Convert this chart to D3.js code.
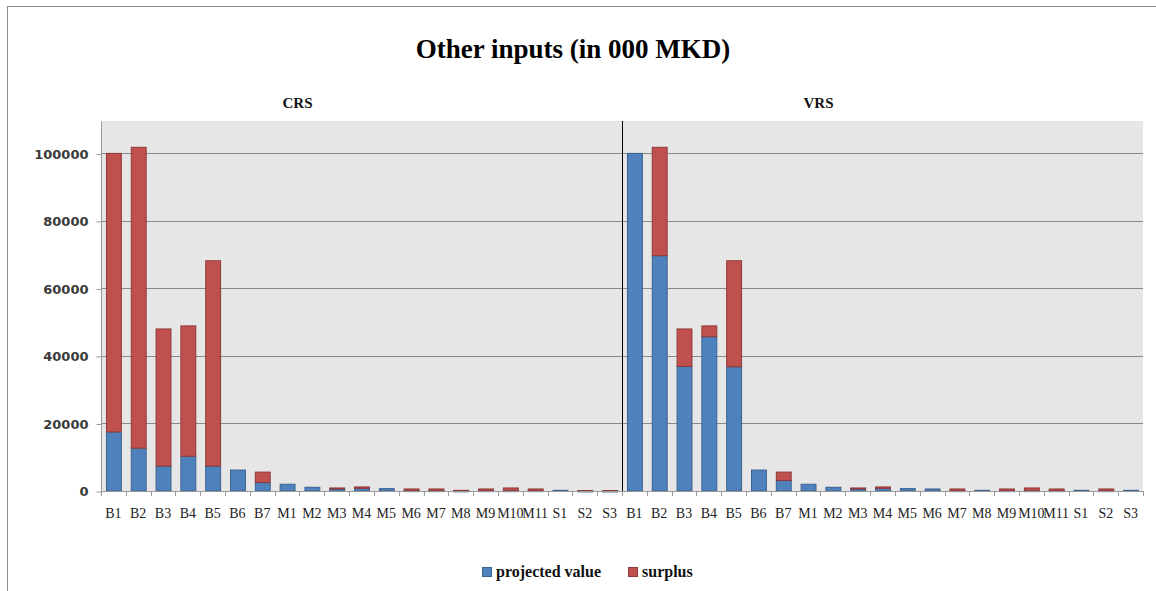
<!DOCTYPE html>
<html>
<head>
<meta charset="utf-8">
<script src="https://cdn.jsdelivr.net/npm/d3@7"></script>
<style>
  html, body { margin: 0; padding: 0; background: #fff; }
  svg { display: block; }
</style>
</head>
<body>
<svg id="chart" width="1156" height="591"></svg>
<script>
// Units per panel (x-axis categories)
const categories = ["B1","B2","B3","B4","B5","B6","B7","M1","M2","M3","M4","M5","M6","M7","M8","M9","M10","M11","S1","S2","S3"];
const panels = ["CRS", "VRS"];

// CRS model, in 000 MKD
const crsProjected = [17500, 12700, 7400, 10300, 7400, 6200, 2500, 2000, 1100, 600, 800, 700, 100, 100, 50, 100, 100, 100, 200, 20, 20];
const crsSurplus   = [82500, 89100, 40600, 38600, 60800, 0, 3100, 0, 0, 300, 400, 0, 500, 500, 150, 500, 800, 500, 0, 130, 130];

// VRS model, in 000 MKD
const vrsProjected = [100000, 69700, 36900, 45700, 36800, 6200, 3100, 2000, 1100, 600, 800, 700, 600, 100, 200, 100, 100, 100, 200, 100, 200];
const vrsSurplus   = [0, 32100, 11100, 3200, 31400, 0, 2500, 0, 0, 300, 400, 0, 0, 500, 0, 500, 800, 500, 0, 500, 0];

const yTicks = [0, 20000, 40000, 60000, 80000, 100000];
const seriesNames = ["projected value", "surplus"];
const colors = { fill: ["#4F81BD", "#C0504D"], stroke: ["#3A6291", "#8E3A38"] };

const svg = d3.select("#chart");
const W = 1156, H = 591;

// outer frame
svg.append("rect").attr("x", 7.5).attr("y", 6.5).attr("width", W).attr("height", H)
  .attr("fill", "#fff").attr("stroke", "#8c8c8c");

const plot = { left: 101, right: 1143, top: 121, bottom: 491 };
const mid = 622;

const y = d3.scaleLinear().domain([0, 109600]).range([plot.bottom, plot.top]);

// plot background
svg.append("rect").attr("x", plot.left).attr("y", plot.top)
  .attr("width", plot.right - plot.left).attr("height", plot.bottom - plot.top)
  .attr("fill", "#E6E6E6");

// gridlines
svg.append("g").selectAll("line").data(yTicks.filter(d => d > 0)).join("line")
  .attr("x1", plot.left).attr("x2", plot.right)
  .attr("y1", d => Math.round(y(d)) + 0.5).attr("y2", d => Math.round(y(d)) + 0.5)
  .attr("stroke", "#8a8a8a").attr("stroke-width", 1);

// y axis
const yAxis = d3.axisLeft(y).tickValues(yTicks).tickSize(5).tickPadding(8).tickFormat(d3.format("d"));
const yg = svg.append("g").attr("transform", `translate(${plot.left + 0.5},0.5)`).call(yAxis);
yg.select(".domain").attr("stroke", "#9a9a9a").attr("d", `M-0,${plot.top}V${plot.bottom}`);
yg.selectAll(".tick line").attr("stroke", "#9a9a9a");
yg.selectAll(".tick text").attr("font-family", "'DejaVu Sans', sans-serif")
  .attr("font-size", 13).attr("font-weight", "bold").attr("fill", "#3a3a3a");

const panelData = [
  { name: "CRS", x0: plot.left, x1: mid, proj: crsProjected, surp: crsSurplus },
  { name: "VRS", x0: mid, x1: plot.right, proj: vrsProjected, surp: vrsSurplus }
];

panelData.forEach(p => {
  const x = d3.scaleBand().domain(categories).range([p.x0, p.x1]).paddingInner(0.4).paddingOuter(0.2);
  const rows = categories.map((c, i) => ({ cat: c, vals: [p.proj[i], p.surp[i]] }));
  const stacked = d3.stack().keys([0, 1]).value((d, k) => d.vals[k])(rows);

  const g = svg.append("g");
  stacked.forEach((layer, k) => {
    g.append("g").selectAll("rect").data(layer.filter(d => d[1] > d[0])).join("rect")
      .attr("x", d => x(d.data.cat) + 0.5)
      .attr("width", x.bandwidth())
      .attr("y", d => y(d[1]))
      .attr("height", d => Math.max(1, y(d[0]) - y(d[1])))
      .attr("fill", colors.fill[k])
      .attr("stroke", colors.stroke[k]).attr("stroke-width", 1);
  });

  // x axis
  const boundaries = d3.range(categories.length + 1).map(i => p.x0 + i * (p.x1 - p.x0) / categories.length);
  const xa = svg.append("g");
  xa.append("line").attr("x1", p.x0).attr("x2", p.x1)
    .attr("y1", plot.bottom + 0.5).attr("y2", plot.bottom + 0.5).attr("stroke", "#9a9a9a");
  xa.selectAll("line.t").data(boundaries).join("line").attr("class", "t")
    .attr("x1", d => Math.round(d) + 0.5).attr("x2", d => Math.round(d) + 0.5)
    .attr("y1", plot.bottom).attr("y2", plot.bottom + 5).attr("stroke", "#9a9a9a");
  xa.selectAll("text").data(categories).join("text")
    .attr("x", d => x(d) + x.bandwidth() / 2)
    .attr("y", plot.bottom + 27)
    .attr("text-anchor", "middle")
    .attr("font-family", "'Liberation Serif', 'Times New Roman', serif")
    .attr("font-size", 14).attr("fill", "#222")
    .text(d => d);

  // panel header
  svg.append("text").attr("x", (p.x0 + p.x1) / 2 - 64).attr("y", 108)
    .attr("text-anchor", "middle")
    .attr("font-family", "'Liberation Serif', 'Times New Roman', serif")
    .attr("font-size", 15).attr("font-weight", "bold").attr("fill", "#111")
    .text(p.name);
});

// panel divider
svg.append("line").attr("x1", mid + 0.5).attr("x2", mid + 0.5)
  .attr("y1", plot.top).attr("y2", plot.bottom).attr("stroke", "#000").attr("stroke-width", 1);

// title
svg.append("text").attr("x", 573).attr("y", 58).attr("text-anchor", "middle")
  .attr("font-family", "'Liberation Serif', 'Times New Roman', serif")
  .attr("font-size", 27).attr("font-weight", "bold").attr("fill", "#000")
  .text("Other inputs (in 000 MKD)");

// legend
const legend = svg.append("g").attr("transform", "translate(482,577)");
const legendX = [0, 146];
seriesNames.forEach((name, k) => {
  const lg = legend.append("g").attr("transform", `translate(${legendX[k]},0)`);
  lg.append("rect").attr("x", 0.5).attr("y", -9.5).attr("width", 9).attr("height", 9)
    .attr("fill", colors.fill[k]).attr("stroke", colors.stroke[k]);
  lg.append("text").attr("x", 14).attr("y", 0)
    .attr("font-family", "'Liberation Serif', 'Times New Roman', serif")
    .attr("font-size", 16).attr("font-weight", "bold").attr("fill", "#111")
    .text(name);
});
</script>
</body>
</html>
